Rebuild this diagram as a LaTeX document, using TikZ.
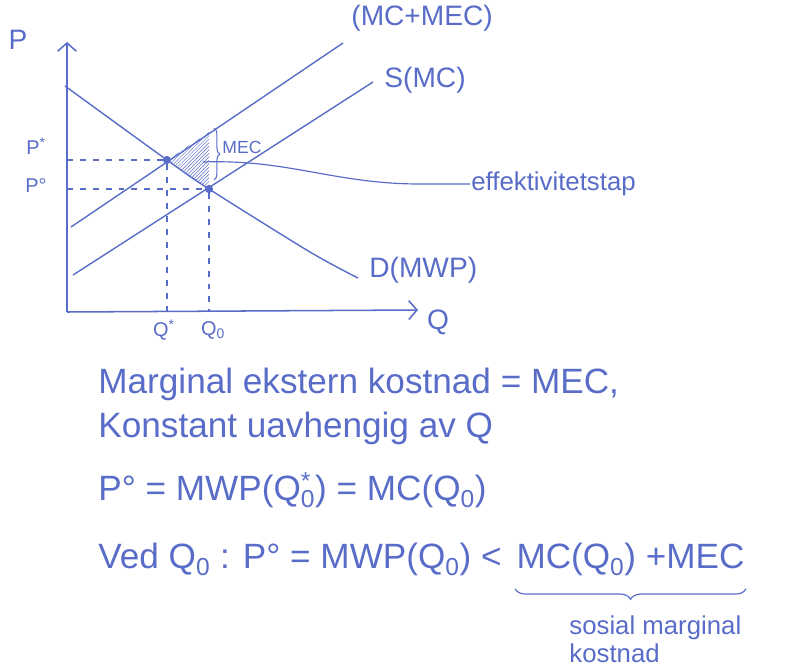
\documentclass[tikz,border=0pt]{standalone}
\usepackage{fontspec}
\setmainfont{Liberation Sans}
\usetikzlibrary{positioning,calc,decorations.pathreplacing,patterns,arrows.meta}
\definecolor{ink}{RGB}{88,108,200}

\begin{document}
\begin{tikzpicture}[
    x=0.03cm, y=-0.03cm,
    every node/.style={text=ink, inner sep=1pt},
    curve/.style={draw=ink, line width=1.2pt},
    guide/.style={draw=ink, dashed, line width=0.9pt, dash pattern=on 5pt off 6pt},
    axis/.style={draw=ink, line width=1.3pt, -{Straight Barb[length=7pt, width=16pt]}},
    lbl/.style={font=\fontsize{24}{28}\selectfont},
    tick/.style={font=\fontsize{17}{20}\selectfont},
    note/.style={font=\fontsize{30}{36}\selectfont, anchor=base west},
    spot/.style={circle, fill=ink, inner sep=0pt, minimum size=7pt},
]
\useasboundingbox (0,0) rectangle (785,668);

% axes
\coordinate (origin) at (67,312);
\coordinate (ytop) at (67,42);
\coordinate (xend) at (418,310);
\draw[axis] (origin) -- (ytop);
\draw[axis] (origin) -- (xend);
\node[lbl] (plabel) at (18,40) {P};
\node[lbl] (qlabel) at (438,322) {Q};

% equilibria
\node[spot] (opt) at (167,160) {};
\node[spot] (mkt) at (209,189) {};

% deadweight loss
\coordinate (dwtop) at (209,132);
\fill[pattern=north east lines, pattern color=ink] (opt.center) -- (dwtop) -- (mkt.center) -- cycle;

% curves
\coordinate (dstart) at (65,86);
\node[lbl, anchor=west] (dlabel) at (368,270) {D(MWP)};
\draw[curve] plot[smooth] coordinates {(dstart) (opt.center) (mkt.center) (310,252) (358,278)};

\coordinate (smcstart) at (71,227);
\node[lbl, anchor=west] (smclabel) at (350,18) {(MC+MEC)};
\draw[curve] (smcstart) -- (343,43);

\coordinate (sstart) at (73,275);
\node[lbl, anchor=west] (slabel) at (383,80) {S(MC)};
\draw[curve] (sstart) -- (373,82);

% guides
\draw[guide] (67,160) -- (opt);
\draw[guide] (67,189) -- (mkt);
\draw[guide] (opt) -- (167,312);
\draw[guide] (mkt) -- (209,312);
\node[tick] (pstar) at (36,146) {P\textsuperscript{*}};
\node[tick] (pnull) at (36,186) {P°};
\node[tick] (qstar) at (164,330) {Q\textsuperscript{*}};
\node[tick] (qnull) at (213,330) {Q\textsubscript{0}};

% MEC gap
\draw[ink, line width=0.9pt, decorate, decoration={brace, amplitude=5pt}] (214,128) -- (214,180);
\node[font=\fontsize{15}{17}\selectfont, anchor=west] (meclabel) at (221,147) {MEC};

% pointer to label
\node[font=\fontsize{22}{26}\selectfont, anchor=west] (dwl) at (470,184) {effektivitetstap};
\draw[ink, line width=1pt] (203,162) to[out=2, in=180] (420,184) -- (dwl.west);

% notes
\node[note] (line1) at (97,393) {Marginal ekstern kostnad = MEC,};
\node[note] (line2) at (97,437) {Konstant uavhengig av Q};
\node[note] (line3) at (97,500) {P° = MWP(Q\rlap{\textsuperscript{*}}\textsubscript{0}) = MC(Q\textsubscript{0})};
\node[note] (line4) at (97,568) {Ved Q\textsubscript{0} : P° = MWP(Q\textsubscript{0}) <};
\node[note, anchor=base west] (smc) at ($(line4.base east)+(12,0)$) {MC(Q\textsubscript{0}) +MEC};
\draw[ink, line width=1pt, decorate, decoration={brace, amplitude=9pt}] ($(smc.south east)+(0,12)$) -- ($(smc.south west)+(0,12)$);
\node[font=\fontsize{22}{24}\selectfont, align=left, anchor=north west] (smctext) at (568,614) {sosial marginal\\kostnad};
\end{tikzpicture}
\end{document}
